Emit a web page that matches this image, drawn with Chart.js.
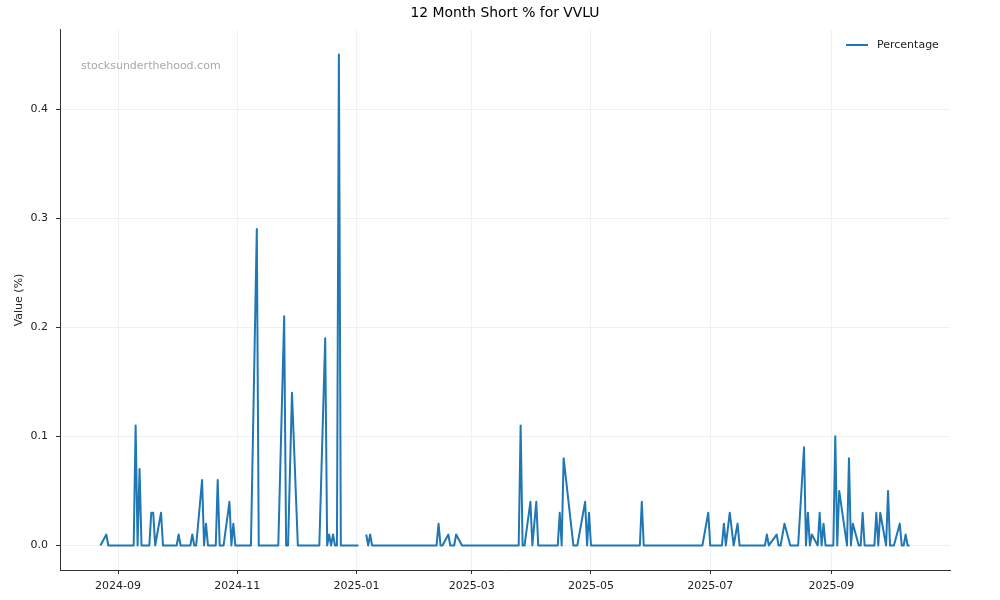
<!DOCTYPE html>
<html>
<head>
<meta charset="utf-8">
<title>12 Month Short % for VVLU</title>
<script src="https://cdn.jsdelivr.net/npm/chart.js@4.4.0/dist/chart.umd.min.js"></script>
<style>
  html, body { margin: 0; padding: 0; background: #fff; }
  #wrap { width: 1000px; height: 600px; }
</style>
</head>
<body>
<div id="wrap"><canvas id="shortChart" width="1000" height="600"></canvas></div>
<script>
var titleText = "12 Month Short % for VVLU";
var seriesLabel = "Percentage";
var yTitle = "Value (%)";
var watermark = "stocksunderthehood.com";

// short % by date (null = no data, line breaks there)
var dates = [
  "2024-08-23", "2024-08-26", "2024-08-27", "2024-09-09", "2024-09-10", "2024-09-11",
  "2024-09-12", "2024-09-13", "2024-09-17", "2024-09-18", "2024-09-19", "2024-09-20",
  "2024-09-23", "2024-09-24", "2024-10-01", "2024-10-02", "2024-10-03", "2024-10-08",
  "2024-10-09", "2024-10-10", "2024-10-11", "2024-10-14", "2024-10-15", "2024-10-16",
  "2024-10-17", "2024-10-21", "2024-10-22", "2024-10-23", "2024-10-25", "2024-10-28",
  "2024-10-29", "2024-10-30", "2024-10-31", "2024-11-08", "2024-11-11", "2024-11-12",
  "2024-11-22", "2024-11-25", "2024-11-26", "2024-11-27", "2024-11-29", "2024-12-02",
  "2024-12-13", "2024-12-16", "2024-12-17", "2024-12-18", "2024-12-19", "2024-12-20",
  "2024-12-21", "2024-12-22", "2024-12-23", "2024-12-24", "2025-01-02", "2025-01-03",
  "2025-01-06", "2025-01-07", "2025-01-08", "2025-01-09", "2025-02-11", "2025-02-12",
  "2025-02-13", "2025-02-14", "2025-02-17", "2025-02-18", "2025-02-20", "2025-02-21",
  "2025-02-24", "2025-03-25", "2025-03-26", "2025-03-27", "2025-03-28", "2025-03-31",
  "2025-04-01", "2025-04-03", "2025-04-04", "2025-04-14", "2025-04-15", "2025-04-16",
  "2025-04-17", "2025-04-22", "2025-04-24", "2025-04-28", "2025-04-29", "2025-04-30",
  "2025-05-01", "2025-05-26", "2025-05-27", "2025-05-28", "2025-06-27", "2025-06-30",
  "2025-07-01", "2025-07-07", "2025-07-08", "2025-07-09", "2025-07-11", "2025-07-13",
  "2025-07-15", "2025-07-16", "2025-07-29", "2025-07-30", "2025-07-31", "2025-08-04",
  "2025-08-05", "2025-08-06", "2025-08-08", "2025-08-11", "2025-08-15", "2025-08-18",
  "2025-08-19", "2025-08-20", "2025-08-21", "2025-08-22", "2025-08-25", "2025-08-26",
  "2025-08-27", "2025-08-28", "2025-08-29", "2025-09-02", "2025-09-03", "2025-09-04",
  "2025-09-05", "2025-09-09", "2025-09-10", "2025-09-11", "2025-09-12", "2025-09-15",
  "2025-09-16", "2025-09-17", "2025-09-18", "2025-09-23", "2025-09-24", "2025-09-25",
  "2025-09-26", "2025-09-29", "2025-09-30", "2025-10-01", "2025-10-03", "2025-10-06",
  "2025-10-07", "2025-10-08", "2025-10-09", "2025-10-10", "2025-10-11"
];
var values = [
  0, 0.01, 0, 0, 0.11, 0,
  0.07, 0, 0, 0.03, 0.03, 0,
  0.03, 0, 0, 0.01, 0, 0,
  0.01, 0, 0, 0.06, 0, 0.02,
  0, 0, 0.06, 0, 0, 0.04,
  0, 0.02, 0, 0, 0.29, 0,
  0, 0.21, 0, 0, 0.14, 0,
  0, 0.19, 0, 0.01, 0, 0.01,
  0, 0, 0.45, 0, 0, null,
  0.01, 0, 0.01, 0, 0, 0.02,
  0, 0, 0.01, 0, 0, 0.01,
  0, 0, 0.11, 0, 0, 0.04,
  0, 0.04, 0, 0, 0.03, 0,
  0.08, 0, 0, 0.04, 0, 0.03,
  0, 0, 0.04, 0, 0, 0.03,
  0, 0, 0.02, 0, 0.03, 0,
  0.02, 0, 0, 0.01, 0, 0.01,
  0, 0, 0.02, 0, 0, 0.09,
  0, 0.03, 0, 0.01, 0, 0.03,
  0, 0.02, 0, 0, 0.10, 0,
  0.05, 0, 0.08, 0, 0.02, 0,
  0, 0.03, 0, 0, 0.03, 0,
  0.03, 0, 0.05, 0, 0, 0.02,
  0, 0, 0.01, 0, 0
];

var xTickDates = ["2024-09-01", "2024-11-01", "2025-01-01", "2025-03-01", "2025-05-01", "2025-07-01", "2025-09-01"];
var yTicks = [0, 0.1, 0.2, 0.3, 0.4];

function toMs(s) {
  var p = s.split("-");
  return Date.UTC(+p[0], +p[1] - 1, +p[2]);
}

function fmtMonth(ms) {
  var d = new Date(ms);
  return d.getUTCFullYear() + "-" + ("0" + (d.getUTCMonth() + 1)).slice(-2);
}

var points = dates.map(function (d, i) {
  return { x: toMs(d), y: values[i] };
});

// matplotlib style 5% margins
var xFirst = points[0].x;
var xLast = points[points.length - 1].x;
var xPad = (xLast - xFirst) * 0.05;
var yMax = Math.max.apply(null, values.filter(function (v) { return v !== null; }));
var yPad = yMax * 0.05;

var tickFont = { family: "DejaVu Sans", size: 11 };
var lineColor = "#1f77b4";
var gridColor = "#f0f0f0";
var axisColor = "#333333";

// watermark + legend (upper right, inside the axes)
var overlayPlugin = {
  id: "overlay",
  beforeDatasetsDraw: function (chart) {
    var ctx = chart.ctx;
    var area = chart.chartArea;
    ctx.save();
    ctx.font = "11px 'DejaVu Sans'";
    ctx.fillStyle = "#a8a8a8";
    ctx.textAlign = "left";
    ctx.textBaseline = "middle";
    ctx.fillText(watermark, area.left + 21, area.top + 36);
    ctx.restore();
  },
  afterDraw: function (chart) {
    var ctx = chart.ctx;
    var area = chart.chartArea;
    var ds = chart.data.datasets[0];
    var y = area.top + 15;
    var x0 = area.right - 104;
    ctx.save();
    ctx.strokeStyle = ds.borderColor;
    ctx.lineWidth = 2;
    ctx.beginPath();
    ctx.moveTo(x0, y);
    ctx.lineTo(x0 + 22, y);
    ctx.stroke();
    ctx.font = "11px 'DejaVu Sans'";
    ctx.fillStyle = "#222";
    ctx.textAlign = "left";
    ctx.textBaseline = "middle";
    ctx.fillText(ds.label, x0 + 31, y);
    ctx.restore();
  }
};

var ctx = document.getElementById("shortChart").getContext("2d");
var myChart = new Chart(ctx, {
  type: "line",
  data: {
    datasets: [
      {
        label: seriesLabel,
        data: points,
        borderColor: lineColor,
        backgroundColor: lineColor,
        borderWidth: 2,
        borderJoinStyle: "round",
        pointRadius: 0,
        tension: 0,
        spanGaps: false,
      },
    ],
  },
  options: {
    responsive: false,
    animation: false,
    layout: { padding: { left: 10, right: 0, top: 0, bottom: 0 } },
    plugins: {
      title: {
        display: true,
        text: titleText,
        color: "#000",
        font: { family: "DejaVu Sans", size: 13.9, weight: "normal" },
        padding: { top: 5, bottom: 8.3 },
      },
      legend: { display: false },
      tooltip: { enabled: false },
    },
    scales: {
      x: {
        type: "linear",
        min: xFirst - xPad,
        max: xLast + xPad,
        afterBuildTicks: function (scale) {
          scale.ticks = xTickDates.map(function (d) { return { value: toMs(d) }; });
        },
        afterFit: function (scale) {
          scale.height = 30;
        },
        ticks: {
          callback: function (v) { return fmtMonth(v); },
          maxRotation: 0,
          autoSkip: false,
          padding: 6,
          color: "#222",
          font: tickFont,
        },
        grid: { color: gridColor, tickColor: axisColor, tickLength: 4 },
        border: { color: axisColor, width: 1 },
      },
      y: {
        min: -yPad,
        max: yMax + yPad,
        afterBuildTicks: function (scale) {
          scale.ticks = yTicks.map(function (v) { return { value: v }; });
        },
        afterFit: function (scale) {
          scale.width = 50;
        },
        ticks: {
          callback: function (v) { return v.toFixed(1); },
          padding: 8,
          color: "#222",
          font: tickFont,
        },
        grid: { color: gridColor, tickColor: axisColor, tickLength: 4 },
        border: { color: axisColor, width: 1 },
        title: {
          display: true,
          text: yTitle,
          color: "#222",
          font: tickFont,
          padding: { top: 3, bottom: 0 },
        },
      },
      // empty right margin, keeps the title centred over the axes
      yRight: {
        position: "right",
        min: 0,
        max: 1,
        grid: { display: false },
        border: { display: false },
        ticks: { display: false },
        afterFit: function (scale) {
          scale.width = 50;
        },
      },
    },
  },
  plugins: [overlayPlugin],
});
</script>
</body>
</html>
